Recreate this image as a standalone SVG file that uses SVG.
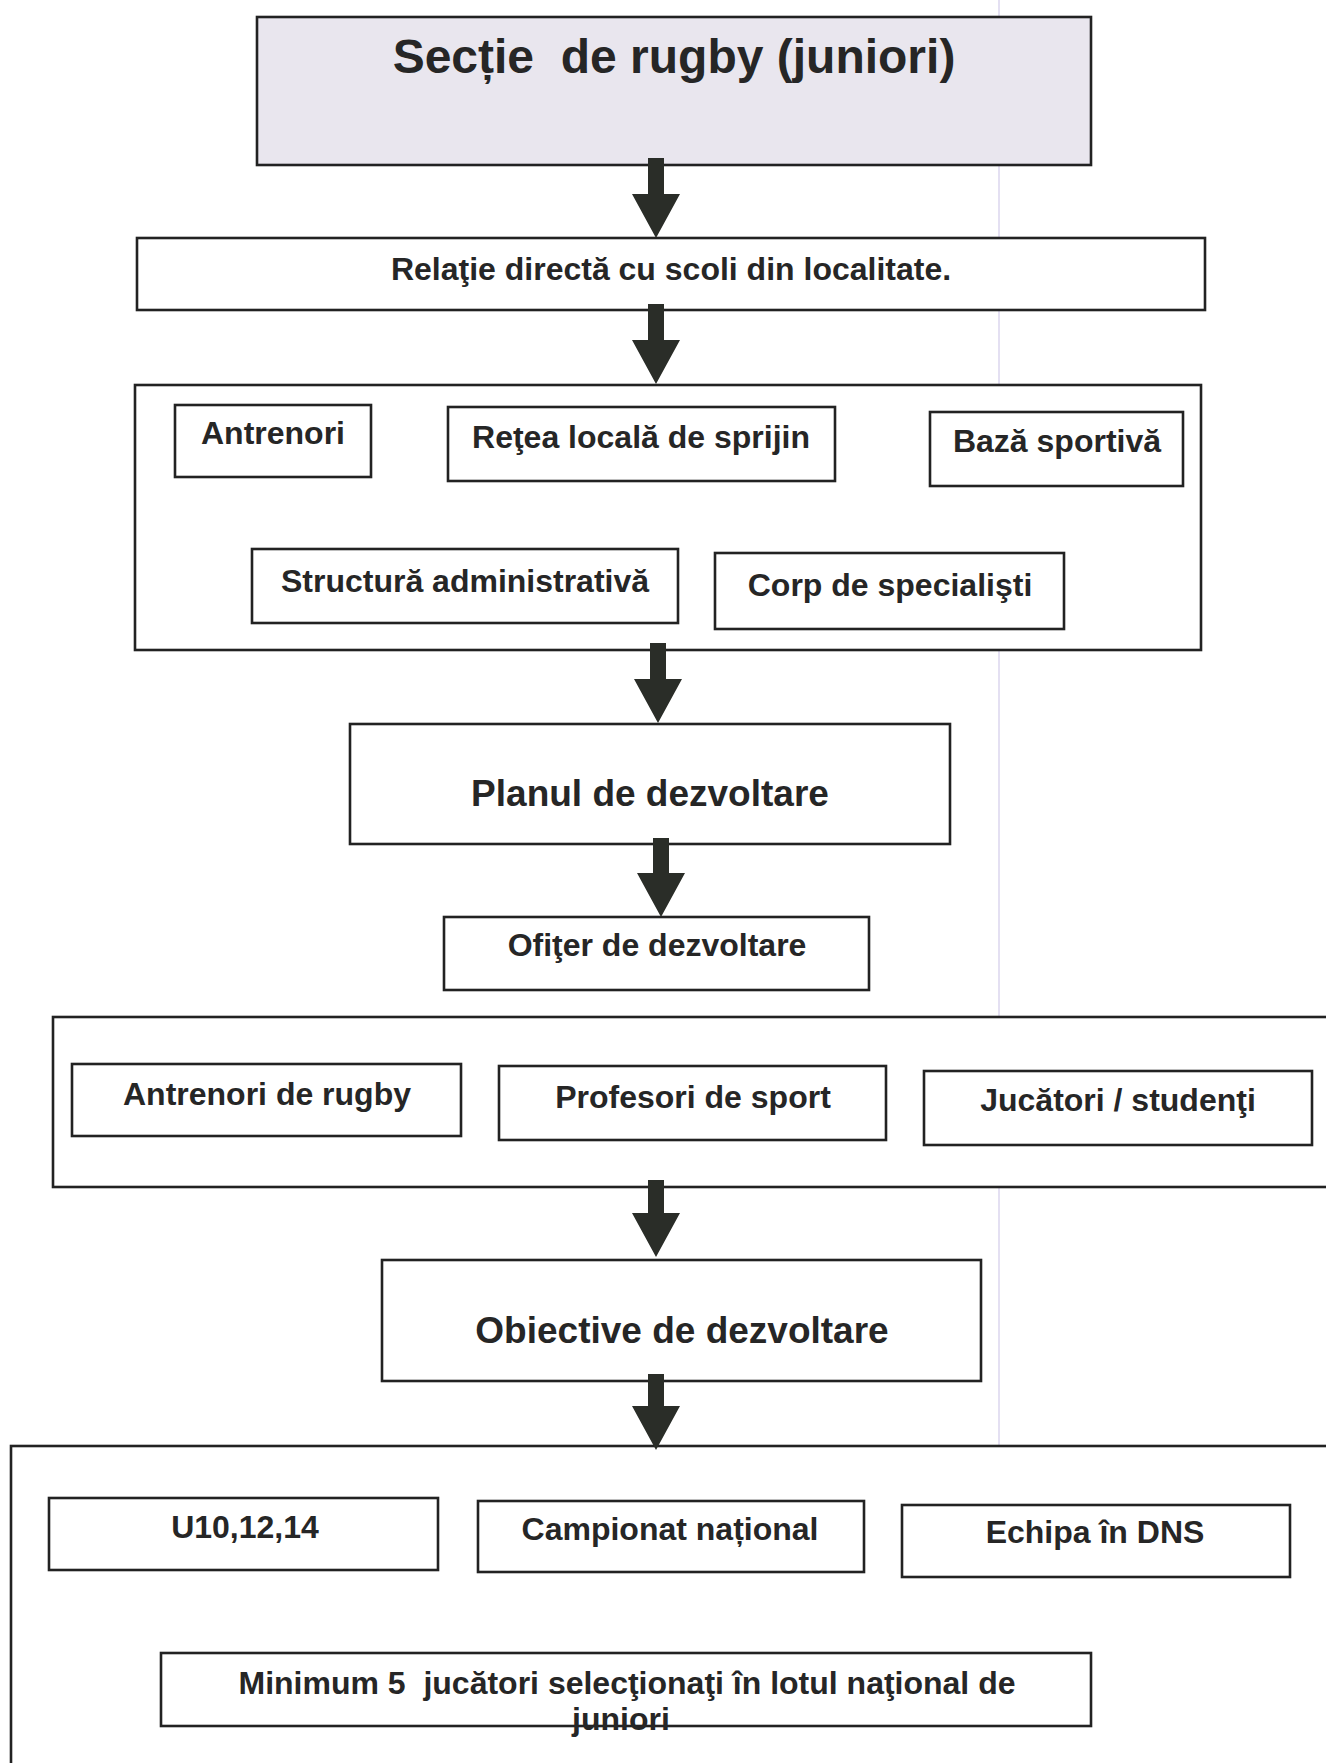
<svg xmlns="http://www.w3.org/2000/svg" width="1326" height="1763" viewBox="0 0 1326 1763">
<style>
.box{fill:#ffffff;stroke:#222;stroke-width:2.6}
.title{fill:#e9e6ee;stroke:#222;stroke-width:2.6}
.t{font-family:"Liberation Sans",Arial,sans-serif;font-weight:bold;fill:#262626;text-anchor:middle;white-space:pre}
.s{font-size:32px}
.m{font-size:37px}
.l{font-size:48px}
.arr{fill:#2a2d28}
</style>
<rect width="1326" height="1763" fill="#ffffff"/>
<line x1="999" y1="0" x2="999" y2="1763" stroke="#e4e0f2" stroke-width="2"/>

<g id="title">
<rect class="title" x="257" y="17" width="834" height="148"/>
<text class="t l" x="674" y="73" xml:space="preserve">Secție  de rugby (juniori)</text>
</g>

<g id="relatie">
<rect class="box" x="137" y="238" width="1068" height="72"/>
<text class="t s" x="671" y="280">Relaţie directă cu scoli din localitate.</text>
</g>

<g id="resurse">
<rect class="box" x="135" y="385" width="1066" height="265"/>
<g id="antrenori">
<rect class="box" x="175" y="405" width="196" height="72"/>
<text class="t s" x="273" y="444">Antrenori</text>
</g>
<g id="retea">
<rect class="box" x="448" y="407" width="387" height="74"/>
<text class="t s" x="641" y="448">Reţea locală de sprijin</text>
</g>
<g id="baza">
<rect class="box" x="930" y="412" width="253" height="74"/>
<text class="t s" x="1057" y="452">Bază sportivă</text>
</g>
<g id="structura">
<rect class="box" x="252" y="549" width="426" height="74"/>
<text class="t s" x="465" y="592">Structură administrativă</text>
</g>
<g id="corp">
<rect class="box" x="715" y="553" width="349" height="76"/>
<text class="t s" x="890" y="596">Corp de specialişti</text>
</g>
</g>

<g id="planul">
<rect class="box" x="350" y="724" width="600" height="120"/>
<text class="t m" x="650" y="806">Planul de dezvoltare</text>
</g>

<g id="ofiter">
<rect class="box" x="444" y="917" width="425" height="73"/>
<text class="t s" x="657" y="956">Ofiţer de dezvoltare</text>
</g>

<g id="actori">
<rect class="box" x="53" y="1017" width="1290" height="170"/>
<g id="antrenori-rugby">
<rect class="box" x="72" y="1064" width="389" height="72"/>
<text class="t s" x="267" y="1105">Antrenori de rugby</text>
</g>
<g id="profesori">
<rect class="box" x="499" y="1066" width="387" height="74"/>
<text class="t s" x="693" y="1108">Profesori de sport</text>
</g>
<g id="jucatori">
<rect class="box" x="924" y="1071" width="388" height="74"/>
<text class="t s" x="1118" y="1111">Jucători / studenţi</text>
</g>
</g>

<g id="obiective">
<rect class="box" x="382" y="1260" width="599" height="121"/>
<text class="t m" x="682" y="1343">Obiective de dezvoltare</text>
</g>

<g id="rezultate">
<rect class="box" x="11" y="1446" width="1330" height="320"/>
<g id="u10">
<rect class="box" x="49" y="1498" width="389" height="72"/>
<text class="t s" x="245" y="1538">U10,12,14</text>
</g>
<g id="campionat">
<rect class="box" x="478" y="1501" width="386" height="71"/>
<text class="t s" x="670" y="1540">Campionat național</text>
</g>
<g id="echipa">
<rect class="box" x="902" y="1505" width="388" height="72"/>
<text class="t s" x="1095" y="1543">Echipa în DNS</text>
</g>
<g id="minimum">
<rect class="box" x="161" y="1653" width="930" height="73"/>
<text class="t s" x="627" y="1694" xml:space="preserve">Minimum 5  jucători selecţionaţi în lotul naţional de</text>
<text class="t s" x="621" y="1730">juniori</text>
</g>
</g>

<g id="connectors">
<polygon class="arr" points="648,158 664,158 664,194 680,194 656,238 632,194 648,194"/>
<polygon class="arr" points="648,304 664,304 664,340 680,340 656,384 632,340 648,340"/>
<polygon class="arr" points="650,643 666,643 666,679 682,679 658,723 634,679 650,679"/>
<polygon class="arr" points="653,838 669,838 669,873 685,873 661,917 637,873 653,873"/>
<polygon class="arr" points="648,1180 664,1180 664,1213 680,1213 656,1257 632,1213 648,1213"/>
<polygon class="arr" points="648,1374 664,1374 664,1406 680,1406 656,1450 632,1406 648,1406"/>
</g>
</svg>
